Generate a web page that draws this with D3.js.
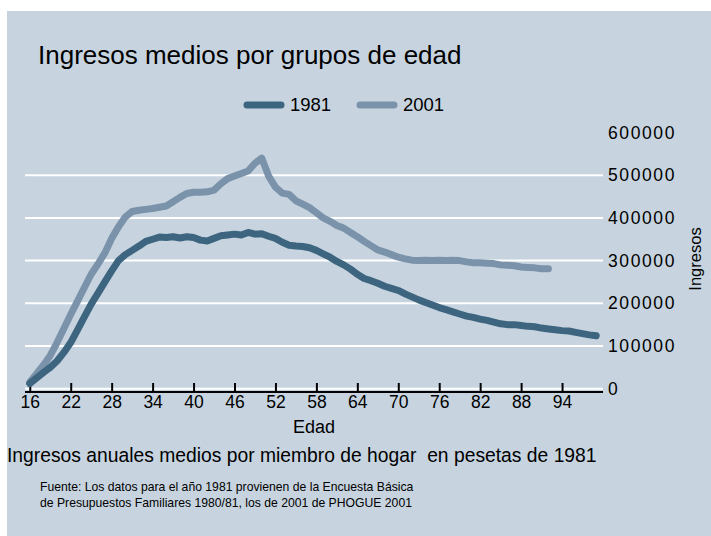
<!DOCTYPE html>
<html>
<head>
<meta charset="utf-8">
<script src="https://cdn.jsdelivr.net/npm/d3@7"></script>
<style>
  body { margin: 0; background: #fff; }
  svg { display: block; font-family: "Liberation Sans", Arial, sans-serif; }
</style>
</head>
<body>
<svg id="chart" width="711" height="536"></svg>
<script>
// ages and mean income per household member (1981 pesetas)
var ages1981 = d3.range(16, 100);
var income1981 = [12000, 25000, 38000, 50000, 65000, 85000, 108000, 138000, 168000, 198000,
  224000, 250000, 276000, 300000, 314000, 324000, 334000, 345000, 350000, 355000,
  354000, 356000, 353000, 356000, 354000, 348000, 346000, 352000, 358000, 360000,
  362000, 360000, 366000, 362000, 363000, 357000, 352000, 343000, 336000, 334000,
  333000, 330000, 324000, 316000, 308000, 298000, 290000, 280000, 268000, 258000,
  253000, 247000, 240000, 235000, 230000, 222000, 215000, 208000, 202000, 196000,
  190000, 185000, 180000, 175000, 170000, 167000, 163000, 160000, 156000, 152000,
  150000, 150000, 148000, 146000, 145000, 142000, 140000, 138000, 136000, 135000,
  132000, 129000, 126000, 124000];

var ages2001 = d3.range(16, 93);
var income2001 = [15000, 35000, 55000, 78000, 108000, 141000, 174000, 205000, 237000, 268000,
  292000, 318000, 352000, 379000, 402000, 415000, 418000, 420000, 422000, 425000,
  428000, 438000, 448000, 457000, 460000, 460000, 461000, 465000, 480000, 492000,
  498000, 504000, 510000, 528000, 540000, 498000, 472000, 458000, 455000, 440000,
  432000, 424000, 412000, 400000, 392000, 382000, 376000, 366000, 356000, 345000,
  335000, 325000, 320000, 314000, 308000, 304000, 301000, 300000, 301000, 300000,
  301000, 300000, 301000, 300000, 297000, 295000, 295000, 294000, 293000, 290000,
  289000, 288000, 285000, 284000, 283000, 281000, 281000];

var xTicks = [16, 22, 28, 34, 40, 46, 52, 58, 64, 70, 76, 82, 88, 94];
var yTicks = [0, 100000, 200000, 300000, 400000, 500000, 600000];

var seriesNames = ["1981", "2001"];
var colors = ["#3d6580", "#7b93aa"];

var svg = d3.select("#chart");

// outer panel
svg.append("rect")
    .attr("x", 7).attr("y", 11)
    .attr("width", 704).attr("height", 525)
    .attr("fill", "#c7d4df");

var x = d3.scaleLinear().domain([15.3, 100]).range([25, 603]);
var y = d3.scaleLinear().domain([0, 600000]).range([388.7, 132.5]);

// grid lines (no line at the top tick)
svg.append("g")
  .selectAll("line")
  .data(yTicks.slice(0, -1))
  .enter().append("line")
    .attr("x1", 25).attr("x2", 603)
    .attr("y1", function(d) { return y(d); })
    .attr("y2", function(d) { return y(d); })
    .attr("stroke", "#fff")
    .attr("stroke-width", 2);

// right axis labels
svg.append("g")
    .attr("transform", "translate(603,0)")
    .call(d3.axisRight(y).tickValues(yTicks).tickSize(0).tickPadding(5).tickFormat(d3.format("d")))
    .call(function(g) {
      g.select(".domain").remove();
      g.selectAll("text")
        .attr("font-size", 17.5)
        .attr("letter-spacing", 1.6)
        .attr("fill", "#000")
        .attr("font-family", "Liberation Sans, Arial, sans-serif");
    });

// bottom axis, ticks pointing inward
svg.append("g")
    .attr("transform", "translate(0,392)")
    .call(d3.axisBottom(x).tickValues(xTicks).tickSizeInner(-9).tickSizeOuter(0).tickPadding(4))
    .call(function(g) {
      g.select(".domain").attr("d", "M25,0H603").attr("stroke", "#000").attr("stroke-width", 2);
      g.selectAll(".tick line").attr("stroke", "#000").attr("stroke-width", 2);
      g.selectAll("text")
        .attr("font-size", 17.5)
        .attr("fill", "#000")
        .attr("font-family", "Liberation Sans, Arial, sans-serif");
    });

var line = d3.line()
    .x(function(d) { return x(d[0]); })
    .y(function(d) { return y(d[1]); });

var data = [
  d3.zip(ages1981, income1981),
  d3.zip(ages2001, income2001)
];

// draw 2001 first so 1981 sits on top where they touch
[1, 0].forEach(function(i) {
  svg.append("path")
      .datum(data[i])
      .attr("d", line)
      .attr("fill", "none")
      .attr("stroke", colors[i])
      .attr("stroke-width", 7)
      .attr("stroke-linejoin", "round")
      .attr("stroke-linecap", "round");
});

// titles
svg.append("text")
    .attr("x", 38).attr("y", 64)
    .attr("font-size", 26)
    .text("Ingresos medios por grupos de edad");

svg.append("text")
    .attr("x", 314).attr("y", 433)
    .attr("text-anchor", "middle")
    .attr("font-size", 18)
    .text("Edad");

svg.append("text")
    .attr("transform", "translate(701,259) rotate(-90)")
    .attr("text-anchor", "middle")
    .attr("font-size", 16.5)
    .text("Ingresos");

svg.append("text")
    .attr("x", 7).attr("y", 462)
    .attr("font-size", 19.3)
    .attr("xml:space", "preserve")
    .text("Ingresos anuales medios por miembro de hogar  en pesetas de 1981");

var note = svg.append("text")
    .attr("font-size", 12.2);
note.append("tspan").attr("x", 40).attr("y", 491)
    .text("Fuente: Los datos para el año 1981 provienen de la Encuesta Básica");
note.append("tspan").attr("x", 40).attr("y", 507)
    .text("de Presupuestos Familiares 1980/81, los de 2001 de PHOGUE 2001");

// legend
var legend = svg.append("g")
  .selectAll("g")
  .data(seriesNames)
  .enter().append("g")
    .attr("transform", function(d, i) { return "translate(" + (247 + i * 113) + ",105)"; });

legend.append("line")
    .attr("x1", 0).attr("x2", 34)
    .attr("stroke", function(d, i) { return colors[i]; })
    .attr("stroke-width", 7)
    .attr("stroke-linecap", "round");

legend.append("text")
    .attr("x", 43).attr("dy", "0.35em")
    .attr("font-size", 18.5)
    .text(function(d) { return d; });
</script>
</body>
</html>
